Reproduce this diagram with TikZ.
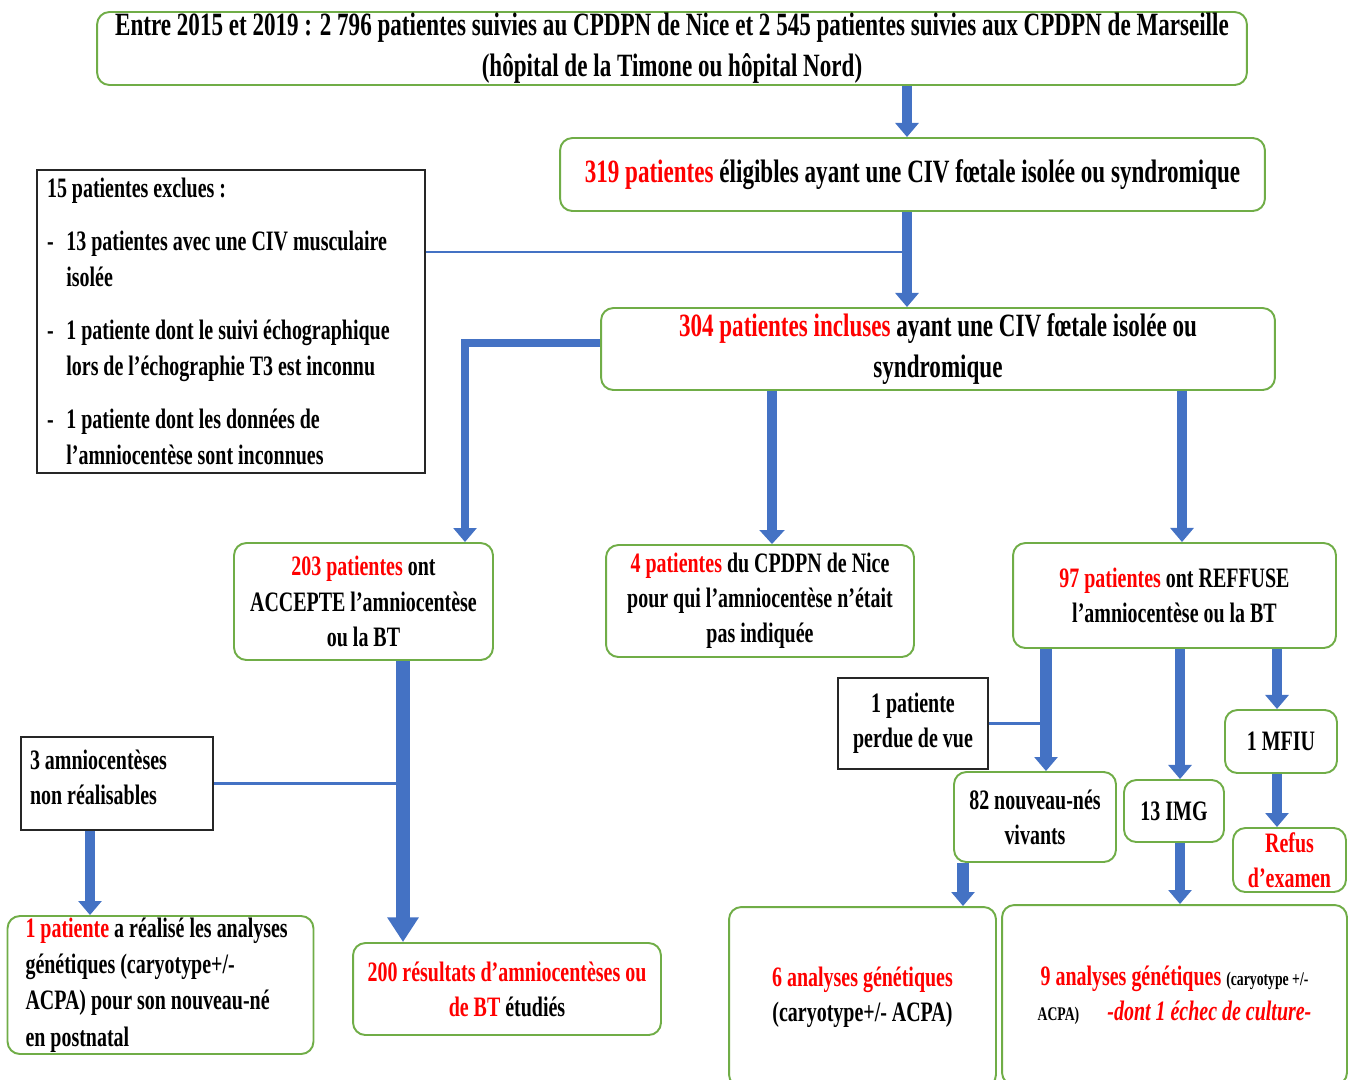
\documentclass[tikz,border=0pt]{standalone}
\usepackage{fontspec}
\setmainfont{Liberation Serif}[BoldFont={Liberation Serif Bold},ItalicFont={Liberation Serif Italic},BoldItalicFont={Liberation Serif Bold Italic},FakeStretch=0.71]
\usepackage{tikz}
\usetikzlibrary{arrows.meta}
\definecolor{vert}{HTML}{70AD47}
\definecolor{bleu}{HTML}{4472C4}
\newcommand{\rouge}[1]{\textcolor{red}{#1}}
\newcommand{\grand}{\fontsize{18.5}{23.3}\selectfont\bfseries}
\newcommand{\moyen}{\fontsize{16}{20}\selectfont\bfseries}

\begin{document}
\begin{tikzpicture}[x=0.02cm,y=-0.02cm]
  \tikzstyle{cadre}=[draw=vert,line width=1.1pt,rounded corners=7pt,fill=white,align=center,inner sep=0pt,font=\moyen]
  \tikzstyle{boite}=[draw=black!85,line width=1.2pt,fill=white,inner sep=0pt,font=\moyen]
  \tikzstyle{fleche}=[draw=bleu,line width=5.5pt,-{Triangle[width=13pt,length=8pt]}]
  \tikzstyle{fil}=[draw=bleu,line width=1.3pt]

  \useasboundingbox (0,0) rectangle (1355,1079);

  \node[cadre,font=\grand,minimum width=23cm,minimum height=1.46cm]   (T)  at (672,48.5)    {Entre 2015 et 2019 : 2 796 patientes suivies au CPDPN de Nice et 2 545 patientes suivies aux CPDPN de Marseille\\(hôpital de la Timone ou hôpital Nord)};
  \node[cadre,font=\grand,minimum width=14.1cm,minimum height=1.46cm] (E)  at (912.5,174.5) {\rouge{319 patientes} éligibles ayant une CIV fœtale isolée ou syndromique};
  \node[boite,align=flush left,text width=7.36cm,inner xsep=0.2cm,minimum height=6.06cm,font=\fontsize{16}{20.5}\selectfont\bfseries] (X) at (231,321.5)
    {15 patientes exclues :\\[9.5pt]
     \makebox[11pt][l]{-}13 patientes avec une CIV musculaire\\
     \hspace*{11pt}isolée\\[9.5pt]
     \makebox[11pt][l]{-}1 patiente dont le suivi échographique\\
     \hspace*{11pt}lors de l’échographie T3 est inconnu\\[9.5pt]
     \makebox[11pt][l]{-}1 patiente dont les données de\\
     \hspace*{11pt}l’amniocentèse sont inconnues};
  \node[cadre,font=\grand,minimum width=13.48cm,minimum height=1.64cm] (I) at (938,349) {\rouge{304 patientes incluses} ayant une CIV fœtale isolée ou\\syndromique};
  \node[cadre,minimum width=5.18cm,minimum height=2.34cm] (A) at (363.5,601.5) {\rouge{203 patientes} ont\\ACCEPTE l’amniocentèse\\ou la BT};
  \node[cadre,minimum width=6.16cm,minimum height=2.24cm] (N) at (760,601)     {\rouge{4 patientes} du CPDPN de Nice\\pour qui l’amniocentèse n’était\\pas indiquée};
  \node[cadre,minimum width=6.46cm,minimum height=2.1cm]  (R) at (1174.5,595.5) {\rouge{97 patientes} ont REFFUSE\\l’amniocentèse ou la BT};
  \node[boite,align=center,minimum width=3cm,minimum height=1.82cm] (P) at (913,723.5) {1 patiente\\perdue de vue};
  \node[cadre,minimum width=3.24cm,minimum height=1.8cm]  (V) at (1035,817)     {82 nouveau-nés\\vivants};
  \node[cadre,minimum width=2cm,minimum height=1.24cm]    (G) at (1174,811)     {13 IMG};
  \node[cadre,minimum width=2.24cm,minimum height=1.26cm] (M) at (1281,741.5)   {1 MFIU};
  \node[cadre,minimum width=2.26cm,minimum height=1.28cm] (F) at (1289.5,860)   {\rouge{Refus}\\\rouge{d’examen}};
  \node[boite,align=flush left,text width=3.48cm,inner xsep=0.18cm,minimum height=1.86cm] (Q) at (117,783.5) {3 amniocentèses\\non réalisables\\[-13pt]\mbox{}};
  \node[cadre,align=flush left,text width=5.4cm,inner xsep=0.36cm,minimum height=2.76cm,font=\fontsize{16}{20.6}\selectfont\bfseries] (U) at (160.5,985)
    {\rouge{1 patiente} a réalisé les analyses\\génétiques (caryotype+/-\\ACPA) pour son nouveau-né\\en postnatal};
  \node[cadre,minimum width=6.16cm,minimum height=1.84cm] (S)  at (507,989)    {\rouge{200 résultats d’amniocentèses ou}\\\rouge{de BT} étudiés};
  \node[cadre,minimum width=5.34cm,minimum height=3.6cm]  (K6) at (862.5,997)  {\rouge{6 analyses génétiques}\\(caryotype+/- ACPA)};
  \node[cadre,minimum width=6.9cm,minimum height=3.6cm]   (K9) at (1174.5,995)
    {\rouge{9 analyses génétiques} {\fontsize{11}{14}\selectfont(caryotype +/-}\\{\fontsize{11}{14}\selectfont ACPA)}\quad\rouge{\itshape -dont 1 échec de culture-}};

  \foreach \n/\x in {a/907,b/465,c/772,d/1182,e/403,f/90,g/1046,k/1180,m/1277,n/963}
    \coordinate (\n) at (\x,0);
  \coordinate (h) at (0,252);
  \coordinate (j) at (0,343);

  \draw[fil] (X.east |- h) -- (a |- h);
  \draw[fil] (Q.east) -- (Q.east -| e);
  \draw[fil] (P.east) -- (P.east -| g);

  \draw[fleche] (T.south -| a) -- (E.north -| a);
  \draw[fleche] (E.south -| a) -- (I.north -| a);
  \draw[fleche,line width=5pt] (I.west |- j) -| (A.north -| b);
  \draw[fleche,line width=6pt,-{Triangle[width=14pt,length=8pt]}] (I.south -| c) -- (N.north -| c);
  \draw[fleche] (I.south -| d) -- (R.north -| d);
  \draw[fleche,line width=8pt,-{Triangle[width=17pt,length=14pt]}] (A.south -| e) -- (S.north -| e);
  \draw[fleche] (Q.south -| f) -- (U.north -| f);
  \draw[fleche,line width=7pt] (R.south -| g) -- (V.north -| g);
  \draw[fleche] (R.south -| k) -- (G.north -| k);
  \draw[fleche] (R.south -| m) -- (M.north -| m);
  \draw[fleche] (M.south -| m) -- (F.north -| m);
  \draw[fleche,line width=7pt] (V.south -| n) -- (K6.north -| n);
  \draw[fleche] (G.south -| k) -- (K9.north -| k);
\end{tikzpicture}
\end{document}
